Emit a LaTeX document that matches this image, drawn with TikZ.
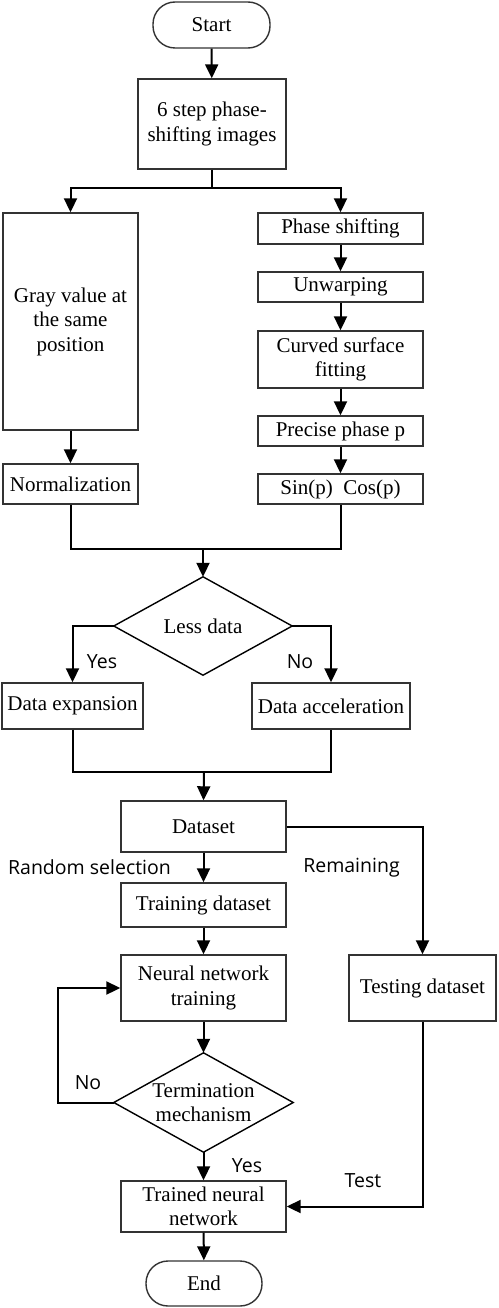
\documentclass[tikz,border=0pt]{standalone}
\usepackage{fontspec}
\setmainfont{Liberation Serif}
\newfontfamily\labfont{Open Sans}
\usetikzlibrary{arrows.meta}
\begin{document}
\begin{tikzpicture}[x=1pt,y=-1pt,
  box/.style={draw=black!80,line width=1.4pt,rectangle,inner sep=0pt,align=center,
    font=\fontsize{21}{24.5}\selectfont},
  term/.style={box,rounded corners=22pt},
  dia/.style={rectangle,inner sep=0pt,align=center,font=\fontsize{21}{24.5}\selectfont},
  dline/.style={draw=black,line width=1.4pt},
  conn/.style={line width=2pt,-{Triangle[width=13pt,length=14pt]}},
  plain/.style={line width=2pt},
  lab/.style={font=\labfont\fontsize{19.5}{22}\selectfont,inner sep=0pt}]
\useasboundingbox (0,0) rectangle (498,1308);
% nodes
\node[term,minimum width=117pt,minimum height=46pt] (start) at (211.5,25) {Start};
\node[box,minimum width=148pt,minimum height=90pt] (six) at (212,124) {6 step phase-\\shifting images};
\node[box,minimum width=135pt,minimum height=217pt] (gray) at (70.5,321.5) {Gray value at\\the same\\position};
\node[box,minimum width=135pt,minimum height=40pt] (norm) at (70.5,484) {Normalization};
\node[box,minimum width=165pt,minimum height=31pt] (phase) at (340.5,228.5) {Phase shifting};
\node[box,minimum width=165pt,minimum height=30pt] (unwarp) at (340.5,287) {Unwarping};
\node[box,minimum width=165pt,minimum height=57pt] (curved) at (340.5,359.5) {Curved surface\\fitting};
\node[box,minimum width=165pt,minimum height=30pt] (precise) at (340.5,431) {Precise phase p};
\node[box,minimum width=165pt,minimum height=30pt] (sincos) at (340.5,489) {Sin(p)\ \ Cos(p)};
\node[dia,minimum width=178pt,minimum height=98pt] (less) at (203,626) {Less data};
\draw[dline] (less.north) -- (less.east) -- (less.south) -- (less.west) -- cycle;
\node[box,minimum width=141pt,minimum height=46pt] (exp) at (72.5,706) {Data expansion};
\node[box,minimum width=158pt,minimum height=46pt] (acc) at (331,706) {Data acceleration};
\node[box,minimum width=165pt,minimum height=51pt] (data) at (203.5,826.5) {Dataset};
\node[box,minimum width=165pt,minimum height=44pt] (train) at (203.5,905) {Training dataset};
\node[box,minimum width=165pt,minimum height=66pt] (nn) at (203.5,988) {Neural network\\training};
\node[box,minimum width=147pt,minimum height=66pt] (test) at (422.5,988) {Testing dataset};
\node[dia,minimum width=179pt,minimum height=99pt] (tm) at (203.5,1102.5) {Termination\\mechanism};
\draw[dline] (tm.north) -- (tm.east) -- (tm.south) -- (tm.west) -- cycle;
\node[box,minimum width=165pt,minimum height=51pt] (trained) at (203.5,1206.5) {Trained neural\\network};
\node[term,minimum width=116pt,minimum height=45pt] (end) at (204,1283.5) {End};
% coordinates
\coordinate (split) at (212,188);
\coordinate (j1) at (203,549);
\coordinate (j2) at (204,772);
% connectors
\draw[conn] (start) -- (six);
\draw[plain] (six.south) -- (split);
\draw[conn] (split) -| (gray.north);
\draw[conn] (split) -| (phase.north);
\draw[conn] (gray) -- (norm);
\draw[conn] (phase) -- (unwarp);
\draw[conn] (unwarp) -- (curved);
\draw[conn] (curved) -- (precise);
\draw[conn] (precise) -- (sincos);
\draw[plain] (norm.south) |- (j1) -| (sincos.south);
\draw[conn] (j1) -- (less.north);
\draw[conn] (less.west) -| (exp.north);
\draw[conn] (less.east) -| (acc.north);
\draw[plain] (exp.south) |- (j2) -| (acc.south);
\draw[conn] (j2) -- (data.north);
\draw[conn] (data) -- (train);
\draw[conn] (data.east) -| (test.north);
\draw[conn] (train) -- (nn);
\draw[conn] (nn) -- (tm.north);
\draw[conn] (tm.west) -- ++(-56,0) |- (nn.west);
\draw[conn] (tm.south) -- (trained.north);
\draw[conn] (test.south) |- (trained.east);
\draw[conn] (trained) -- (end);
% labels
\node[lab] (l1) at (102,662) {Yes};
\node[lab] (l2) at (300,662) {No};
\node[lab] (l3) at (89.5,867) {Random selection};
\node[lab] (l4) at (351.5,868) {Remaining};
\node[lab] (l5) at (88,1083) {No};
\node[lab] (l6) at (247,1166) {Yes};
\node[lab] (l7) at (363,1181) {Test};
\end{tikzpicture}
\end{document}
